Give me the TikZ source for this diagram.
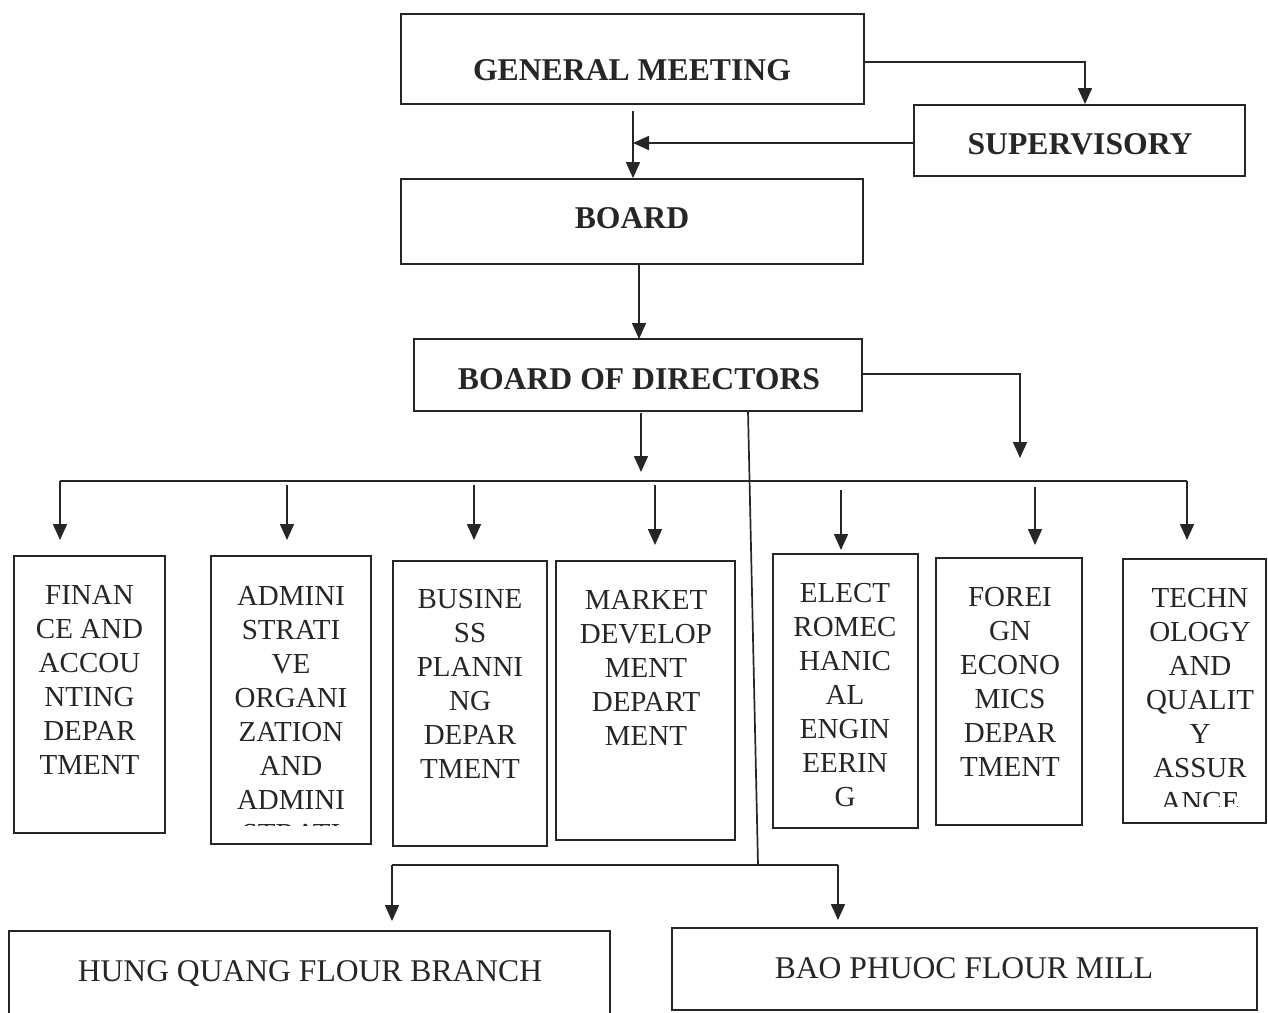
\documentclass[tikz,border=0pt]{standalone}
\usepackage{fontspec}
\setmainfont{Liberation Serif}
\usetikzlibrary{arrows.meta}
\begin{document}
\begin{tikzpicture}[x=1pt,y=-1pt,
  box/.style={draw=black!85, line width=1.8pt, inner sep=0pt},
  title/.style={font=\bfseries\fontsize{31.7}{36}\selectfont, text=black!85, inner sep=0pt, anchor=base},
  dept/.style={anchor=north, align=center, inner sep=0pt, font=\fontsize{29}{34}\selectfont, text=black!85},
  unit/.style={font=\fontsize{31.6}{36}\selectfont, text=black!85, inner sep=0pt, anchor=base},
  conn/.style={draw=black!85, line width=1.7pt},
  arr/.style={conn, -{Triangle[width=14pt,length=16pt]}}]
\useasboundingbox (0,0) rectangle (1268,1012);
% top boxes
\node[box, minimum width=463pt, minimum height=90pt] (gm) at (632.5,59) {};
\node[title] (gmT) at (632,80.5) {GENERAL MEETING};
\node[box, minimum width=331pt, minimum height=71pt] (sup) at (1079.5,140.5) {};
\node[title] (supT) at (1080,154.5) {SUPERVISORY};
\node[box, minimum width=462pt, minimum height=85pt] (board) at (632,221.5) {};
\node[title] (boardT) at (632,228.5) {BOARD};
\node[box, minimum width=448pt, minimum height=72pt] (bod) at (638,375) {};
\node[title] (bodT) at (639,389.5) {BOARD OF DIRECTORS};
% departments
\node[box, minimum width=151pt, minimum height=277pt] (d1) at (89.5,694.5) {};
\node[box, minimum width=160pt, minimum height=288pt] (d2) at (291,700) {};
\node[box, minimum width=154pt, minimum height=285pt] (d3) at (470,703.5) {};
\node[box, minimum width=179pt, minimum height=279pt] (d4) at (645.5,700.5) {};
\node[box, minimum width=145pt, minimum height=274pt] (d5) at (845.5,691) {};
\node[box, minimum width=146pt, minimum height=267pt] (d6) at (1009,691.5) {};
\node[box, minimum width=143pt, minimum height=264pt] (d7) at (1194.5,691) {};
\node[dept] (t1) at (89.5,585) {FINAN\\CE AND\\ACCOU\\NTING\\DEPAR\\TMENT};
\begin{scope}
  \clip (212,557) rectangle (370,825);
  \node[dept] (t2) at (291,586) {ADMINI\\STRATI\\VE\\ORGANI\\ZATION\\AND\\ADMINI\\STRATI};
\end{scope}
\node[dept] (t3) at (470,589) {BUSINE\\SS\\PLANNI\\NG\\DEPAR\\TMENT};
\node[dept] (t4) at (646,590) {MARKET\\DEVELOP\\MENT\\DEPART\\MENT};
\node[dept] (t5) at (845,583) {ELECT\\ROMEC\\HANIC\\AL\\ENGIN\\EERIN\\G};
\node[dept] (t6) at (1010,587) {FOREI\\GN\\ECONO\\MICS\\DEPAR\\TMENT};
\begin{scope}
  \clip (1124,560) rectangle (1266,806);
  \node[dept] (t7) at (1200,588) {TECHN\\OLOGY\\AND\\QUALIT\\Y\\ASSUR\\ANCE};
\end{scope}
% bottom units
\node[box, minimum width=601pt, minimum height=95pt] (hq) at (309.5,978.5) {};
\node[unit] (hqT) at (310,981) {HUNG QUANG FLOUR BRANCH};
\node[box, minimum width=585pt, minimum height=82pt] (bp) at (964.5,969) {};
\node[unit] (bpT) at (964,978) {BAO PHUOC FLOUR MILL};
% coordinates
\coordinate (gmR) at (864,62);
\coordinate (gmB) at (633,111);
\coordinate (supL) at (914,143);
\coordinate (bodR) at (862,374);
\coordinate (rEnd) at (1020,458);
\coordinate (bodB) at (641,413);
\coordinate (busTip) at (641,472);
\coordinate (busL) at (60,481);
\coordinate (busR) at (1187,481);
\coordinate (vTop) at (748,411);
\coordinate (vBot) at (758,865);
\coordinate (sbL) at (392,865);
\coordinate (sbR) at (838,865);
% connectors top
\draw[arr] (gmR) -| (sup.north -| 1085,0);
\draw[arr] (gmB) -- (gmB |- board.north);
\draw[arr] (supL) -- (supL -| gmB);
\draw[arr] (639,264) -- (639,339);
\draw[arr] (bodR) -| (rEnd);
\draw[arr] (bodB) -- (busTip);
% bus
\draw[conn] (busL) -- (busR);
\draw[arr] (busL) -- (60,540);
\draw[arr] (287,485) -- (287,540);
\draw[arr] (474,485) -- (474,540);
\draw[arr] (655,485) -- (655,545);
\draw[arr] (841,490) -- (841,550);
\draw[arr] (1035,487) -- (1035,545);
\draw[arr] (busR) -- (1187,540);
% branch line
\draw[conn] (vTop) -- (vBot);
\draw[conn] (sbL) -- (sbR);
\draw[arr] (sbL) -- (392,921);
\draw[arr] (sbR) -- (838,920);
\end{tikzpicture}
\end{document}
